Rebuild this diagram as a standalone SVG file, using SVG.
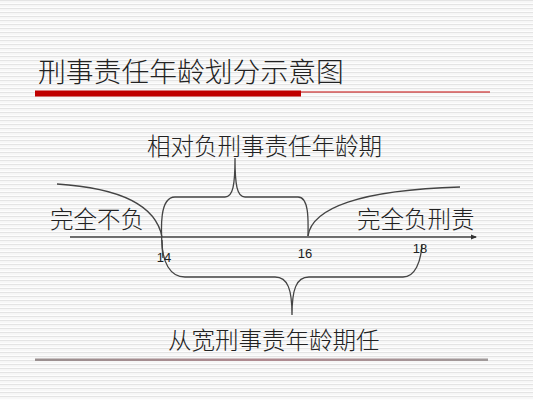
<svg xmlns="http://www.w3.org/2000/svg" width="533" height="400" viewBox="0 0 533 400">
<defs>
<pattern id="stripes" width="533" height="4" patternUnits="userSpaceOnUse">
<rect width="533" height="4" fill="#ffffff"/>
<rect y="0" width="533" height="1.3" fill="#e4e4e4"/>
<rect y="2.5" width="533" height="0.6" fill="#f0f0f0"/>
</pattern>
<marker id="arrow" markerWidth="6" markerHeight="6" refX="5" refY="3" orient="auto" markerUnits="userSpaceOnUse">
<path d="M0,0.5 L6,3 L0,5.5 Z" fill="#333"/>
</marker>
<linearGradient id="botline" x1="0" x2="1" y1="0" y2="0">
<stop offset="0" stop-color="#9a9090"/>
<stop offset="0.5" stop-color="#b08a90"/>
<stop offset="1" stop-color="#a09a9a"/>
</linearGradient>
</defs>
<style>
.cjk{font-family:"Noto Sans CJK SC","Noto Sans",sans-serif;fill:#222;font-weight:300}
.num{font-family:"Liberation Sans","DejaVu Sans",sans-serif;fill:#222;font-size:13px}
.ln{fill:none;stroke:#444;stroke-width:1.3}
</style>
<rect width="533" height="400" fill="url(#stripes)"/>
<g id="title">
<text class="cjk" x="38" y="82" font-size="27.8">刑事责任年龄划分示意图</text>
<line x1="300" y1="92" x2="490" y2="92" stroke="#c00000" stroke-width="1"/>
<rect x="35" y="90.5" width="266" height="6" fill="#c00000"/>
</g>
<g id="bottom-rule">
<rect x="35" y="358.5" width="453" height="2.5" fill="url(#botline)"/>
</g>
<g id="connectors">
<line class="ln" x1="70" y1="237" x2="476" y2="237" marker-end="url(#arrow)"/>
<path class="ln" d="M57,184 C120,188 156,205 162,237"/>
<path class="ln" d="M308,236 C312,208 360,190 460,187"/>
<path class="ln" d="M163,258 C160,225 160,197 175,197 L225,197 C233,197 235,185 235,158 C235,185 237,197 245,197 L298,197 C310,197 308,225 308,236"/>
<path class="ln" d="M162,240 C162,262 170,277 185,277 L275,277 C288,277 292,290 292,315 C292,290 296,277 309,277 L403,277 C415,277 421,262 422,244"/>
</g>
<g id="label-relative">
<text class="cjk" x="147" y="155" font-size="23.5">相对负刑事责任年龄期</text>
</g>
<g id="label-none">
<text class="cjk" x="50" y="228" font-size="23.5">完全不负</text>
</g>
<g id="label-full">
<text class="cjk" x="357" y="228" font-size="23.5">完全负刑责</text>
</g>
<g id="label-lenient">
<text class="cjk" x="168" y="349" font-size="23.5">从宽刑事责年龄期任</text>
</g>
<g id="ticks">
<text class="num" x="164" y="262" text-anchor="middle">14</text>
<text class="num" x="305" y="258" text-anchor="middle">16</text>
<text class="num" x="420" y="253" text-anchor="middle">18</text>
</g>
</svg>
